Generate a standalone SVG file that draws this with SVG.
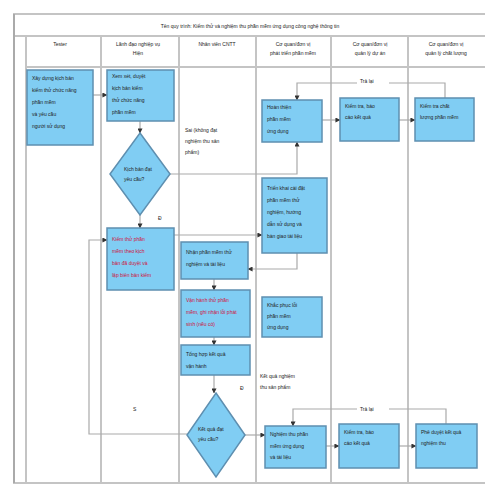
<svg xmlns="http://www.w3.org/2000/svg" width="500" height="500" viewBox="0 0 500 500">
<defs>
<marker id="ah" viewBox="0 0 6 6" refX="5.5" refY="3" markerWidth="5" markerHeight="5" orient="auto" markerUnits="userSpaceOnUse"><path d="M0,0 L6,3 L0,6 z" fill="#333"/></marker>
<style>
.lane{stroke:#c4c4c4;stroke-width:2;fill:none}
.box{fill:#80cdf3;stroke:#5e8fb0;stroke-width:1.5}
.t{font-family:"Liberation Sans",Arial,sans-serif;font-size:5px;fill:#222}
.r{fill:#d0103a}
.h{font-family:"Liberation Sans",Arial,sans-serif;font-size:5px;fill:#222;text-anchor:middle}
.c{stroke:#aaa;stroke-width:1.2;fill:none;marker-end:url(#ah)}
.cn{stroke:#aaa;stroke-width:1.2;fill:none}
.lbl{font-family:"Liberation Sans",Arial,sans-serif;font-size:5px;fill:#222}
</style>
</defs>
<rect width="500" height="500" fill="#fff"/>
<g id="frame">
<line class="lane" x1="13" y1="14" x2="485" y2="14"/>
<line class="lane" x1="13" y1="36" x2="485" y2="36"/>
<line class="lane" x1="26" y1="67" x2="485" y2="67"/>
<line class="lane" x1="13" y1="483" x2="485" y2="483"/>
<line x1="14" y1="14" x2="14" y2="483" stroke="#aaa" stroke-width="2"/>
<line class="lane" x1="26" y1="36" x2="26" y2="483"/>
<line class="lane" x1="101" y1="36" x2="101" y2="483"/>
<line class="lane" x1="179" y1="36" x2="179" y2="483"/>
<line class="lane" x1="256" y1="36" x2="256" y2="483"/>
<line class="lane" x1="331" y1="36" x2="331" y2="483"/>
<line class="lane" x1="408" y1="36" x2="408" y2="483"/>
<text class="h" x="250" y="28">Tên quy trình: Kiểm thử và nghiệm thu phần mềm ứng dụng công nghệ thông tin</text>
<text class="h" x="60" y="46">Tester</text>
<text class="h" x="138" y="46">Lãnh đạo nghiệp vụ</text>
<text class="h" x="138" y="55">Hiện</text>
<text class="h" x="217" y="46">Nhân viên CNTT</text>
<text class="h" x="293" y="46">Cơ quan/đơn vị</text>
<text class="h" x="293" y="55">phát triển phần mềm</text>
<text class="h" x="370" y="46">Cơ quan/đơn vị</text>
<text class="h" x="370" y="55">quản lý dự án</text>
<text class="h" x="446" y="46">Cơ quan/đơn vị</text>
<text class="h" x="446" y="55">quản lý chất lượng</text>
</g>
<g id="connectors">
<path class="c" d="M93,95 H107"/>
<path class="c" d="M140,121 V133"/>
<path class="c" d="M170,174 H297 V142"/>
<path class="c" d="M445,98 V83 H297 V100"/>
<path class="c" d="M322,120 H340"/>
<path class="c" d="M399,120 H415"/>
<path class="c" d="M140,215 V228"/>
<path class="c" d="M187,434 H89 V240 H107"/>
<path class="c" d="M174,235 H262"/>
<path class="c" d="M297,253 V269 H248"/>
<path class="c" d="M214,279 V290"/>
<path class="c" d="M214,337 V345"/>
<path class="c" d="M214,375 V393"/>
<path class="c" d="M245,435 H265"/>
<path class="c" d="M326,446 H339"/>
<path class="c" d="M399,446 H416"/>
<path class="c" d="M446,424 V409 H293 V426"/>
<rect x="357" y="77" width="32" height="9" fill="#fff"/>
<text class="lbl" x="360" y="83">Trả lại</text>
<rect x="357" y="404" width="32" height="9" fill="#fff"/>
<text class="lbl" x="360" y="411">Trả lại</text>
<text class="lbl" x="158" y="220">Đ</text>
<text class="lbl" x="240" y="390">Đ</text>
<text class="lbl" x="133" y="411">S</text>
<text class="lbl" x="185" y="132">Sai (không đạt</text>
<text class="lbl" x="185" y="143">nghiệm thu sản</text>
<text class="lbl" x="185" y="154">phẩm)</text>
<text class="lbl" x="260" y="378">Kết quả nghiệm</text>
<text class="lbl" x="260" y="389">thu sản phẩm</text>
</g>
<g id="n1"><rect class="box" x="27" y="70" width="66" height="75"/>
<text class="t" x="32" y="80">Xây dựng kịch bản</text><text class="t" x="32" y="92">kiểm thử chức năng</text><text class="t" x="32" y="104">phần mềm</text><text class="t" x="32" y="116">và yêu cầu</text><text class="t" x="32" y="128">người sử dụng</text></g>
<g id="n2"><rect class="box" x="107" y="70" width="67" height="51"/>
<text class="t" x="112" y="78">Xem xét, duyệt</text><text class="t" x="112" y="90">kịch bản kiểm</text><text class="t" x="112" y="102">thử chức năng</text><text class="t" x="112" y="114">phần mềm</text></g>
<g id="n3"><path class="box" d="M140,133 L170,174 L140,215 L110,174 z"/>
<text class="t" x="124" y="171">Kịch bản đạt</text><text class="t" x="124" y="181">yêu cầu?</text></g>
<g id="n4"><rect class="box" x="262" y="100" width="60" height="42"/>
<text class="t" x="267" y="109">Hoàn thiện</text><text class="t" x="267" y="121">phần mềm</text><text class="t" x="267" y="133">ứng dụng</text></g>
<g id="n5"><rect class="box" x="340" y="98" width="59" height="43"/>
<text class="t" x="345" y="108">Kiểm tra, báo</text><text class="t" x="345" y="119">cáo kết quả</text></g>
<g id="n6"><rect class="box" x="415" y="98" width="59" height="43"/>
<text class="t" x="420" y="108">Kiểm tra chất</text><text class="t" x="420" y="119">lượng phần mềm</text></g>
<g id="n8"><rect class="box" x="262" y="178" width="65" height="75"/>
<text class="t" x="267" y="190">Triển khai cài đặt</text><text class="t" x="267" y="202">phần mềm thử</text><text class="t" x="267" y="214">nghiệm, hướng</text><text class="t" x="267" y="226">dẫn sử dụng và</text><text class="t" x="267" y="238">bàn giao tài liệu</text></g>
<g id="n9"><rect class="box" x="107" y="228" width="67" height="62"/>
<text class="t r" x="112" y="241">Kiểm thử phần</text><text class="t r" x="112" y="253">mềm theo kịch</text><text class="t r" x="112" y="265">bản đã duyệt và</text><text class="t r" x="112" y="277">lập biên bản kiểm</text></g>
<g id="n10"><rect class="box" x="181" y="242" width="67" height="37"/>
<text class="t" x="186" y="254">Nhận phần mềm thử</text><text class="t" x="186" y="266">nghiệm và tài liệu</text></g>
<g id="n11"><rect class="box" x="181" y="290" width="69" height="47"/>
<text class="t r" x="186" y="302">Vận hành thử phần</text><text class="t r" x="186" y="314">mềm, ghi nhận lỗi phát</text><text class="t r" x="186" y="326">sinh (nếu có)</text></g>
<g id="n12"><rect class="box" x="262" y="297" width="60" height="40"/>
<text class="t" x="267" y="307">Khắc phục lỗi</text><text class="t" x="267" y="318">phần mềm</text><text class="t" x="267" y="329">ứng dụng</text></g>
<g id="n13"><rect class="box" x="181" y="345" width="69" height="30"/>
<text class="t" x="186" y="356">Tổng hợp kết quả</text><text class="t" x="186" y="368">vận hành</text></g>
<g id="n14"><path class="box" d="M216,393 L245,435 L216,477 L187,435 z"/>
<text class="t" x="198" y="431">Kết quả đạt</text><text class="t" x="198" y="441">yêu cầu?</text></g>
<g id="n15"><rect class="box" x="265" y="426" width="61" height="42"/>
<text class="t" x="270" y="436">Nghiệm thu phần</text><text class="t" x="270" y="448">mềm ứng dụng</text><text class="t" x="270" y="459">và tài liệu</text></g>
<g id="n16"><rect class="box" x="339" y="424" width="60" height="44"/>
<text class="t" x="344" y="434">Kiểm tra, báo</text><text class="t" x="344" y="445">cáo kết quả</text></g>
<g id="n17"><rect class="box" x="416" y="424" width="61" height="44"/>
<text class="t" x="421" y="434">Phê duyệt kết quả</text><text class="t" x="421" y="445">nghiệm thu</text></g>
</svg>
